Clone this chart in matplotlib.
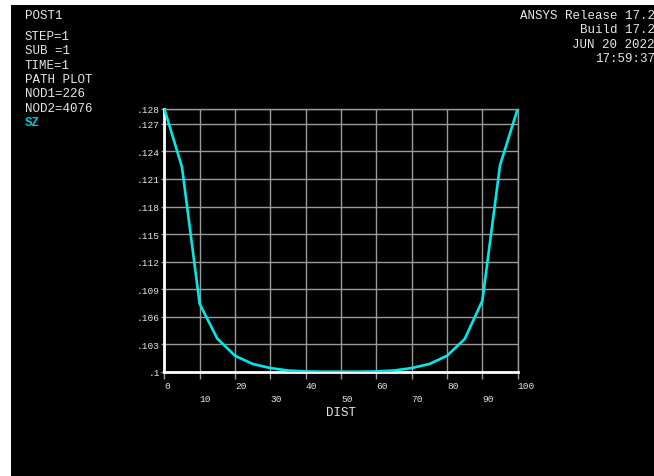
import matplotlib.pyplot as plt
from matplotlib.patches import Rectangle

# path plot data
dist = [0, 5, 10, 15, 20, 25, 30, 35, 40, 45, 50, 55, 60, 65, 70, 75, 80, 85, 90, 95, 100]
sz = [0.12866, 0.1223, 0.1074, 0.1036, 0.10174, 0.10084, 0.1004, 0.10013, 0.10003, 0.1, 0.1,
      0.1, 0.10003, 0.10013, 0.1004, 0.10084, 0.10174, 0.10356, 0.10774, 0.1225, 0.12866]

y_ticks = [0.1, 0.103, 0.106, 0.109, 0.112, 0.115, 0.118, 0.121, 0.124, 0.127, 0.12866]
y_labels = ['.1', '.103', '.106', '.109', '.112', '.115', '.118', '.121', '.124', '.127', '.128']
x_ticks = [0, 10, 20, 30, 40, 50, 60, 70, 80, 90, 100]

left_info = ['STEP=1', 'SUB =1', 'TIME=1', 'PATH PLOT', 'NOD1=226', 'NOD2=4076']
right_info = ['ANSYS Release 17.2', 'Build 17.2', 'JUN 20 2022', '17:59:37']

mono = 'Liberation Mono'
txt = '#e6e6e6'
grid_c = '#9a9a9a'

W, H = 654, 477
fig = plt.figure(figsize=(W / 100, H / 100), dpi=100, facecolor='white')
fig.patches.append(Rectangle((11 / W, 0), 1, (H - 6) / H, transform=fig.transFigure,
                             facecolor='black', edgecolor='none', zorder=-5))

ax = fig.add_axes([164.3 / W, (H - 372.7) / H, 353.4 / W, 263 / H])
ax.set_facecolor('black')
ax.plot(dist, sz, color='#00e8e8', lw=1.9, zorder=3)

ax.set_xlim(0, 100)
ax.set_ylim(0.1, 0.12866)
ax.set_xticks(x_ticks)
ax.set_xticklabels([])
ax.set_yticks(y_ticks)
ax.set_yticklabels(y_labels, fontfamily=mono, fontsize=6.8, color=txt)
ax.grid(True, color=grid_c, lw=1)
ax.tick_params(axis='x', length=5, width=1, color=grid_c)
ax.tick_params(axis='y', length=2, width=1, color=grid_c, pad=1)
for s in ['left', 'bottom']:
    ax.spines[s].set_color('white')
    ax.spines[s].set_linewidth(2)
for s in ['top', 'right']:
    ax.spines[s].set_color(grid_c)
    ax.spines[s].set_linewidth(1)

# ANSYS staggers the distance labels on two rows
tr = ax.get_xaxis_transform()
for i, v in enumerate(x_ticks):
    off = -14 if i % 2 == 0 else -27
    ax.annotate(str(v), (v, 0), xycoords=tr, xytext=(0, off), textcoords='offset pixels',
                ha='left', va='center', fontfamily=mono, fontsize=6.8, color=txt)
ax.annotate('DIST', (50, 0), xycoords=tr, xytext=(0, -40), textcoords='offset pixels',
            ha='center', va='center', fontfamily=mono, fontsize=9, color=txt)

fig.text(25 / W, 1 - 16 / H, 'POST1', fontfamily=mono, fontsize=9, color=txt, va='center')
for i, s in enumerate(left_info):
    fig.text(25 / W, 1 - (37 + 14.3 * i) / H, s, fontfamily=mono, fontsize=9, color=txt, va='center')
fig.text(25 / W, 1 - 123 / H, 'SZ', fontfamily=mono, fontsize=9, color='#00c8c8',
         va='center', fontweight='bold')
for i, s in enumerate(right_info):
    fig.text(655 / W, 1 - (16 + 14.3 * i) / H, s, fontfamily=mono, fontsize=9, color=txt,
             va='center', ha='right')

fig.savefig('out.png', dpi=100, facecolor='white')
